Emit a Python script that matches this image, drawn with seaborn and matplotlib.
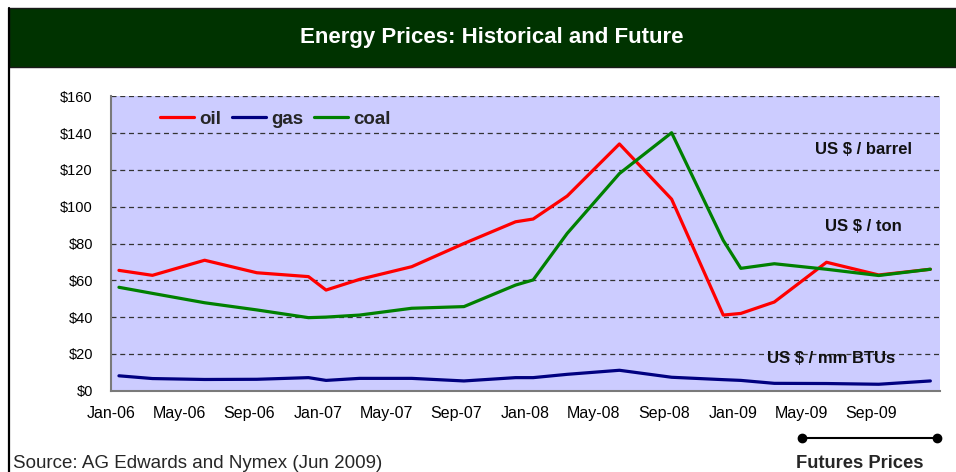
import pandas as pd
import matplotlib
matplotlib.use('Agg')
import matplotlib.pyplot as plt
from matplotlib.patches import Rectangle
from matplotlib.lines import Line2D
import seaborn as sns

# mid-month observation dates (historical + futures)
dates = ['2006-01-15', '2006-03-15', '2006-06-15', '2006-09-15', '2006-12-15',
         '2007-01-15', '2007-03-15', '2007-06-15', '2007-09-15', '2007-12-15',
         '2008-01-15', '2008-03-15', '2008-06-15', '2008-09-15', '2008-12-15',
         '2009-01-15', '2009-03-15', '2009-06-15', '2009-09-15', '2009-12-15']
oil = [65.4, 62.7, 70.9, 64.1, 62.0, 54.7, 60.5, 67.4, 80.0, 91.8,
       93.3, 105.8, 134.1, 104.1, 41.1, 42.0, 48.2, 69.8, 62.9, 66.0]
gas = [8.1, 6.6, 6.1, 6.2, 7.1, 5.6, 6.7, 6.7, 5.3, 7.1,
       7.1, 8.9, 11.1, 7.3, 6.0, 5.6, 4.0, 3.9, 3.5, 5.3]
coal = [56.2, 52.9, 47.8, 43.9, 39.7, 40.0, 41.1, 44.8, 45.7, 57.4,
        60.2, 85.5, 118.0, 140.2, 81.7, 66.5, 69.0, 66.0, 62.6, 66.0]

tick_labels = ['Jan-06', 'May-06', 'Sep-06', 'Jan-07', 'May-07', 'Sep-07',
               'Jan-08', 'May-08', 'Sep-08', 'Jan-09', 'May-09', 'Sep-09']
fuels = ['oil', 'gas', 'coal']
colors = {'oil': '#ff0000', 'gas': '#000080', 'coal': '#008000'}
units = ['US $ / barrel', 'US $ / ton', 'US $ / mm BTUs']

df = pd.DataFrame({'date': pd.to_datetime(dates), 'oil': oil, 'gas': gas, 'coal': coal})
long_df = df.melt(id_vars='date', var_name='fuel', value_name='price')

sns.set_theme(style='white')
plt.rcParams['font.family'] = ['Liberation Sans', 'DejaVu Sans']

W, H = 956, 472
fig = plt.figure(figsize=(W / 100, H / 100), dpi=100)
fig.patch.set_facecolor('white')

# header band + left frame line
fig.add_artist(Rectangle((9 / W, 1 - 67 / H), 1 - 9 / W, 59 / H, transform=fig.transFigure,
                         facecolor='#003300', edgecolor='#1a1a1a', lw=1))
fig.add_artist(Line2D([9 / W, 9 / W], [0, 1 - 8 / H], transform=fig.transFigure,
                      color='black', lw=1.6))
fig.text(492 / W, 1 - 38 / H, 'Energy Prices: Historical and Future', color='white',
         fontsize=16, fontweight='bold', ha='center', va='center')

ax = fig.add_axes([111 / W, 1 - 390.7 / H, 829 / W, 294.4 / H])
ax.set_facecolor('#ccccff')
sns.lineplot(data=long_df, x='date', y='price', hue='fuel', hue_order=fuels,
             palette=colors, linewidth=2.3, ax=ax, legend=False)

ax.set_xlim(pd.Timestamp('2006-01-01'), pd.Timestamp('2010-01-01'))
ax.set_ylim(0, 160)
ticks = pd.date_range('2006-01-01', '2010-01-01', freq='4MS')
ax.set_xticks(ticks)
ax.set_xticklabels(tick_labels + [''], fontsize=11.5)
ax.set_yticks(range(0, 161, 20))
ax.set_yticklabels(['$%d' % v for v in range(0, 161, 20)], fontsize=10.5)
ax.set_xlabel('')
ax.set_ylabel('')

ax.yaxis.grid(True, linestyle=(0, (4, 3)), color='#333333', lw=0.9)
ax.set_axisbelow(True)
for s in ['top', 'right']:
    ax.spines[s].set_visible(False)
for s in ['left', 'bottom']:
    ax.spines[s].set_color('#7a7a7a')
    ax.spines[s].set_linewidth(1.5)
ax.tick_params(axis='both', direction='out', length=4, width=1, color='#333333',
               colors='black')
ax.tick_params(axis='y', pad=9)
ax.tick_params(axis='x', pad=7)

handles = [Line2D([], [], color=colors[f], lw=2.3) for f in fuels]
ax.legend(handles, fuels, loc='center left', bbox_to_anchor=(0.039, 0.923), ncol=3,
          frameon=False, handlelength=1.8, handletextpad=0.27, columnspacing=0.6,
          borderpad=0.4, prop={'weight': 'bold', 'size': 13.5})

for txt, (x, y) in zip(units, [(0.908, 0.818), (0.907, 0.559), (0.869, 0.110)]):
    ax.text(x, y, txt, transform=ax.transAxes, ha='center', va='center',
            fontsize=12, fontweight='bold', color='#111111')

# futures bracket and source
fig.add_artist(Line2D([802 / W, 937 / W], [1 - 437.7 / H] * 2, transform=fig.transFigure,
                      color='black', lw=1.5, marker='o', markersize=6))
fig.text(859.5 / W, 1 - 463 / H, 'Futures Prices', fontsize=13.2, fontweight='bold',
         ha='center', va='center')
fig.text(13 / W, 1 - 464 / H, 'Source: AG Edwards and Nymex (Jun 2009)', fontsize=13.5,
         ha='left', va='center')

fig.savefig('out.png', dpi=100)
